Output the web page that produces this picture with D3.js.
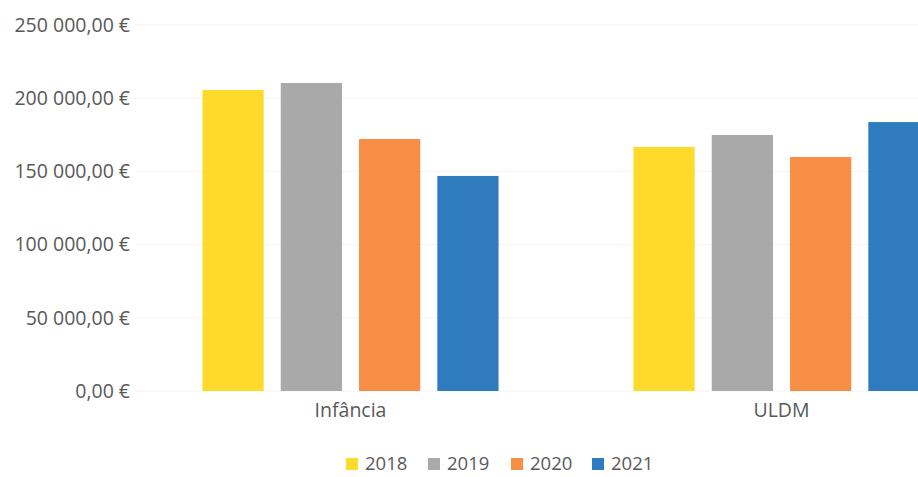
<!DOCTYPE html>
<html>
<head>
<meta charset="utf-8">
<script src="https://cdn.jsdelivr.net/npm/d3@7"></script>
<style>
  body { margin: 0; background: #fff; }
  svg { display: block; font-family: "Open Sans", sans-serif; }
</style>
</head>
<body>
<div id="chart"></div>
<script>
const categories = ["Infância", "ULDM"];
const years = ["2018", "2019", "2020", "2021"];
const values2018 = [205600, 166700];
const values2019 = [210400, 174900];
const values2020 = [172100, 159800];
const values2021 = [146900, 183700];
const yTicks = [0, 50000, 100000, 150000, 200000, 250000];

const series = [values2018, values2019, values2020, values2021];
const colors = d3.scaleOrdinal(years, ["#fedb2a", "#a9a9a9", "#f68f45", "#2f7bbe"]);

const dims = { width: 918, height: 477 };
const plot = { left: 135, right: 997, top: 25, bottom: 391 };

const svg = d3.select("#chart").append("svg")
  .attr("width", dims.width)
  .attr("height", dims.height);

const y = d3.scaleLinear().domain([0, 250000]).range([plot.bottom, plot.top]);
const x0 = d3.scaleBand().domain(categories).range([plot.left, plot.right]);
// bars take ~69% of each category band
const groupW = x0.bandwidth() * 0.687;
const x1 = d3.scaleBand().domain(years)
  .range([(x0.bandwidth() - groupW) / 2, (x0.bandwidth() + groupW) / 2])
  .paddingInner(0.218);

const fmt = (v) => d3.format(",.2f")(v).replace(/,/g, " ").replace(".", ",") + " €";

// faint gridlines
svg.append("g")
  .selectAll("line")
  .data(yTicks)
  .join("line")
  .attr("x1", plot.left)
  .attr("x2", plot.right)
  .attr("y1", (d) => y(d))
  .attr("y2", (d) => y(d))
  .attr("stroke", "#f3f3f3")
  .attr("stroke-width", 1);

// y axis labels, no line
const yAxis = svg.append("g")
  .attr("transform", `translate(${plot.left}, 0)`)
  .call(d3.axisLeft(y).tickValues(yTicks).tickFormat(fmt).tickSize(0).tickPadding(5));
yAxis.select(".domain").remove();
yAxis.selectAll("text")
  .attr("fill", "#595959")
  .style("font-size", "19.5px")
  .style("font-family", "Open Sans, sans-serif");

const groups = svg.append("g")
  .selectAll("g")
  .data(categories)
  .join("g")
  .attr("transform", (d) => `translate(${x0(d)}, 0)`);

groups.selectAll("rect")
  .data((d, i) => years.map((yr, j) => ({ year: yr, value: series[j][i] })))
  .join("rect")
  .attr("x", (d) => x1(d.year))
  .attr("y", (d) => y(d.value))
  .attr("width", x1.bandwidth())
  .attr("height", (d) => y(0) - y(d.value))
  .attr("fill", (d) => colors(d.year));

// category labels
const xAxis = svg.append("g")
  .attr("transform", `translate(0, ${plot.bottom})`)
  .call(d3.axisBottom(x0).tickSize(0).tickPadding(12));
xAxis.select(".domain").remove();
xAxis.selectAll("text")
  .attr("fill", "#595959")
  .style("font-size", "19.5px")
  .style("font-family", "Open Sans, sans-serif");

// legend
const legendX = [346, 428, 511, 592];
const legend = svg.append("g")
  .selectAll("g")
  .data(years)
  .join("g")
  .attr("transform", (d, i) => `translate(${legendX[i]}, 464)`);
legend.append("rect")
  .attr("x", 0)
  .attr("y", -6)
  .attr("width", 12)
  .attr("height", 12)
  .attr("fill", (d) => colors(d));
legend.append("text")
  .attr("x", 19)
  .attr("dy", "0.35em")
  .attr("fill", "#595959")
  .style("font-size", "18.5px")
  .text((d) => d);
</script>
</body>
</html>
